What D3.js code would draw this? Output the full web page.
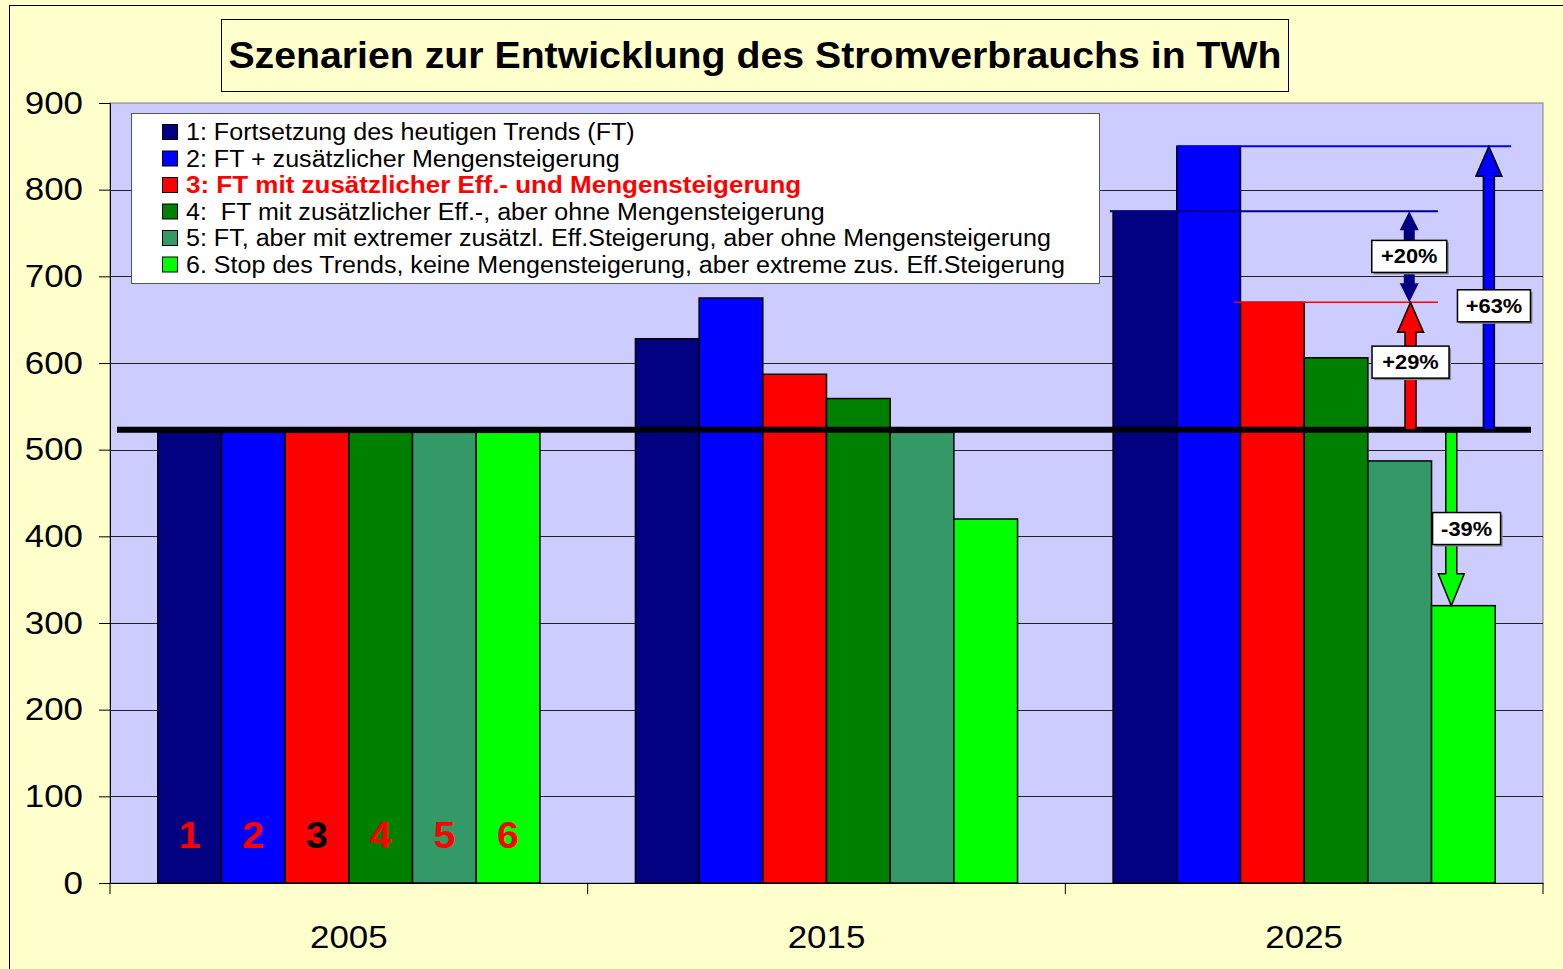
<!DOCTYPE html>
<html>
<head>
<meta charset="utf-8">
<script src="https://cdn.jsdelivr.net/npm/d3@7"></script>
<style>
  body { margin: 0; background: #FFFFCC; }
  text { font-family: "Liberation Sans", Arial, sans-serif; }
</style>
</head>
<body>
<div id="chart"></div>
<script>
// data
const years = ["2005", "2015", "2025"]
const scenarios = ["s1", "s2", "s3", "s4", "s5", "s6"]
const scenarioColors = ["#000080", "#0000FF", "#FF0000", "#008000", "#339966", "#00FF00"]
const legendLabels = [
  "1: Fortsetzung des heutigen Trends (FT)",
  "2: FT + zusätzlicher Mengensteigerung",
  "3: FT mit zusätzlicher Eff.- und Mengensteigerung",
  "4:  FT mit zusätzlicher Eff.-, aber ohne Mengensteigerung",
  "5: FT, aber mit extremer zusätzl. Eff.Steigerung, aber ohne Mengensteigerung",
  "6. Stop des Trends, keine Mengensteigerung, aber extreme zus. Eff.Steigerung"
]
const values2005 = [520, 520, 520, 520, 520, 520]
const values2015 = [628, 675, 587, 559, 520, 420]
const values2025 = [775, 850, 670, 606, 487, 320]
const yTicks = [0, 100, 200, 300, 400, 500, 600, 700, 800, 900]
const baseValue = 523
const barNumbers = ["1", "2", "3", "4", "5", "6"]
const barNumberColors = ["#FF0000", "#FF0000", "#000000", "#FF0000", "#FF0000", "#FF0000"]
const title = "Szenarien zur Entwicklung des Stromverbrauchs in TWh"

const byYear = {"2005": values2005, "2015": values2015, "2025": values2025}

const width = 1563
const height = 969
const plot = {left: 110, right: 1543, top: 103, bottom: 883}
const stretchX = 1.09   // the original text is a bit wider than Arial

// widen text horizontally to match the original
function stretch(sel, k = stretchX) {
    sel.each(function(d, i) {
        const f = typeof k === 'function' ? k(d, i) : k
        const len = this.getComputedTextLength()
        d3.select(this).attr('textLength', len * f).attr('lengthAdjust', 'spacingAndGlyphs')
    })
}

const svg = d3.select('#chart').append('svg')
              .attr('width', width)
              .attr('height', height)
              .style('display', 'block')

// outer chart area
svg.append('rect')
   .attr('x', 9.5).attr('y', 5.5)
   .attr('width', 1600).attr('height', 1000)
   .attr('fill', '#FFFFCC')
   .attr('stroke', '#000')

const x0 = d3.scaleBand().domain(years).range([plot.left, plot.right])
const x1 = d3.scaleBand().domain(scenarios).range([0, x0.bandwidth()]).paddingOuter(0.75)
const y = d3.scaleLinear().domain([0, 900]).range([plot.bottom, plot.top])

// plot area
svg.append('rect')
   .attr('x', plot.left).attr('y', plot.top)
   .attr('width', plot.right - plot.left).attr('height', plot.bottom - plot.top)
   .attr('fill', '#CCCCFF')
   .attr('stroke', '#808080')

// gridlines
svg.append('g')
   .selectAll('line')
   .data(yTicks.filter(d => d > 0 && d < 900))
   .join('line')
   .attr('x1', plot.left).attr('x2', plot.right)
   .attr('y1', d => Math.round(y(d)) + 0.5).attr('y2', d => Math.round(y(d)) + 0.5)
   .attr('stroke', '#222')
   .attr('stroke-width', 1)

// y axis
const yAxis = svg.append('g')
   .attr('transform', `translate(${plot.left},0)`)
   .call(d3.axisLeft(y).tickValues(yTicks).tickSize(11).tickPadding(16))
yAxis.select('.domain').attr('stroke', '#000')
yAxis.selectAll('.tick line').attr('stroke', '#000')
yAxis.selectAll('text').attr('font-size', 32).attr('fill', '#000')
     .attr('font-family', '"Liberation Sans", Arial, sans-serif')
     .call(stretch)

// x axis
const xAxis = svg.append('g')
   .attr('transform', `translate(0,${plot.bottom})`)
   .call(d3.axisBottom(x0).tickSize(0).tickPadding(42))
xAxis.select('.domain').attr('stroke', '#000')
xAxis.selectAll('text').attr('font-size', 32).attr('fill', '#000')
     .attr('font-family', '"Liberation Sans", Arial, sans-serif')
     .call(stretch)
svg.append('g')
   .selectAll('line')
   .data(years.concat(['end']))
   .join('line')
   .attr('x1', (d, i) => plot.left + i * x0.step()).attr('x2', (d, i) => plot.left + i * x0.step())
   .attr('y1', plot.bottom).attr('y2', plot.bottom + 11)
   .attr('stroke', '#000')

// bars
const groups = svg.append('g')
   .selectAll('g')
   .data(years)
   .join('g')
   .attr('transform', d => `translate(${x0(d)},0)`)

groups.selectAll('rect')
   .data(yr => byYear[yr].map((v, i) => ({key: scenarios[i], value: v, i})))
   .join('rect')
   .attr('x', d => x1(d.key))
   .attr('y', d => y(d.value))
   .attr('width', x1.bandwidth())
   .attr('height', d => y(0) - y(d.value))
   .attr('fill', d => scenarioColors[d.i])
   .attr('stroke', '#000')
   .attr('stroke-width', 1.5)

// numbers in 2005 bars
svg.append('g')
   .selectAll('text')
   .data(barNumbers)
   .join('text')
   .attr('x', (d, i) => x0('2005') + x1(scenarios[i]) + x1.bandwidth() / 2)
   .attr('y', y(40))
   .attr('text-anchor', 'middle')
   .attr('font-size', 36)
   .attr('font-weight', 'bold')
   .attr('fill', (d, i) => barNumberColors[i])
   .text(d => d)
   .call(stretch)

// base line at today's consumption
svg.append('line')
   .attr('x1', plot.left + 7).attr('x2', plot.right - 12)
   .attr('y1', y(baseValue)).attr('y2', y(baseValue))
   .attr('stroke', '#000')
   .attr('stroke-width', 6)

// annotations for 2025: positions in bar units inside the group
const gx = u => x0('2025') + x1('s1') + u * x1.bandwidth()
const v25 = values2025

const refLines = [
  {from: -0.05, to: 5.1, value: v25[0], color: '#000080', w: 2},
  {from: 1.0, to: 6.25, value: v25[1], color: '#0000FF', w: 2},
  {from: 1.9, to: 5.1, value: v25[2], color: '#FF0000', w: 1.5}
]
svg.append('g')
   .selectAll('line')
   .data(refLines)
   .join('line')
   .attr('x1', d => gx(d.from)).attr('x2', d => gx(d.to))
   .attr('y1', d => y(d.value)).attr('y2', d => y(d.value))
   .attr('stroke', d => d.color)
   .attr('stroke-width', d => d.w)

function arrowPath(cx, yFrom, yTo, shaft, head, headLen, doubleHead) {
    const dir = yTo < yFrom ? -1 : 1
    const hs = shaft / 2, hh = head / 2
    const baseTo = yTo - dir * headLen
    if (!doubleHead) {
        return `M${cx - hs},${yFrom} L${cx - hs},${baseTo} L${cx - hh},${baseTo} L${cx},${yTo}
                L${cx + hh},${baseTo} L${cx + hs},${baseTo} L${cx + hs},${yFrom} Z`
    }
    const baseFrom = yFrom + dir * headLen
    return `M${cx},${yFrom} L${cx + hh},${baseFrom} L${cx + hs},${baseFrom} L${cx + hs},${baseTo}
            L${cx + hh},${baseTo} L${cx},${yTo} L${cx - hh},${baseTo} L${cx - hs},${baseTo}
            L${cx - hs},${baseFrom} L${cx - hh},${baseFrom} Z`
}

const arrows = [
  {u: 4.67, from: baseValue, to: v25[2], color: '#FF0000', stroke: '#000', dbl: false},
  {u: 5.9, from: baseValue, to: v25[1], color: '#0000FF', stroke: '#000', dbl: false},
  {u: 5.31, from: 520, to: v25[5], color: '#00FF00', stroke: '#000', dbl: false},
  {u: 4.65, from: v25[0], to: v25[2], color: '#000080', stroke: 'none', dbl: true}
]
svg.append('g')
   .selectAll('path')
   .data(arrows)
   .join('path')
   .attr('d', d => arrowPath(gx(d.u), y(d.from), y(d.to), 11, d.dbl ? 19 : 26, d.dbl ? 19 : (d.to > d.from ? 30 : 32), d.dbl))
   .attr('fill', d => d.color)
   .attr('stroke', d => d.stroke)
   .attr('stroke-width', 1.5)
   .attr('stroke-linejoin', 'miter')

const labels = [
  {u: 4.65, value: 723, text: "+20%", w: 75},
  {u: 4.67, value: 601, text: "+29%", w: 77},
  {u: 5.98, value: 666, text: "+63%", w: 73},
  {u: 5.55, value: 409, text: "-39%", w: 68}
]
const lab = svg.append('g')
   .selectAll('g')
   .data(labels)
   .join('g')
   .attr('transform', d => `translate(${gx(d.u)},${y(d.value)})`)
lab.append('rect')
   .attr('x', d => -d.w / 2 + 2).attr('y', -14)
   .attr('width', d => d.w).attr('height', 32)
   .attr('fill', '#888')
lab.append('rect')
   .attr('x', d => -d.w / 2).attr('y', -16)
   .attr('width', d => d.w).attr('height', 32)
   .attr('fill', '#fff')
   .attr('stroke', '#000')
   .attr('stroke-width', 1.5)
lab.append('text')
   .attr('text-anchor', 'middle')
   .attr('y', 7)
   .attr('font-size', 20)
   .attr('font-weight', 'bold')
   .text(d => d.text)
   .call(stretch)

// legend
const legend = svg.append('g').attr('transform', 'translate(131,113)')
legend.append('rect')
   .attr('x', 0.5).attr('y', 0.5)
   .attr('width', 968).attr('height', 170)
   .attr('fill', '#fff')
   .attr('stroke', '#555')
const items = legend.selectAll('g')
   .data(legendLabels)
   .join('g')
   .attr('transform', (d, i) => `translate(0,${19 + i * 26.5})`)
items.append('rect')
   .attr('x', 31.5).attr('y', -7.5)
   .attr('width', 15).attr('height', 15)
   .attr('fill', (d, i) => scenarioColors[i])
   .attr('stroke', '#000')
items.append('text')
   .attr('x', 55)
   .attr('y', 8)
   .attr('font-size', 23)
   .attr('font-weight', (d, i) => i === 2 ? 'bold' : 'normal')
   .attr('fill', (d, i) => i === 2 ? '#FF0000' : '#000')
   .style('white-space', 'pre')
   .text(d => d)
   .call(stretch, (d, i) => i === 2 ? 1.13 : stretchX)

// title
svg.append('rect')
   .attr('x', 221.5).attr('y', 19.5)
   .attr('width', 1067).attr('height', 72)
   .attr('fill', '#FFFFCC')
   .attr('stroke', '#000')
svg.append('text')
   .attr('x', 755).attr('y', 68)
   .attr('text-anchor', 'middle')
   .attr('font-size', 36)
   .attr('font-weight', 'bold')
   .text(title)
   .call(stretch)
</script>
</body>
</html>
